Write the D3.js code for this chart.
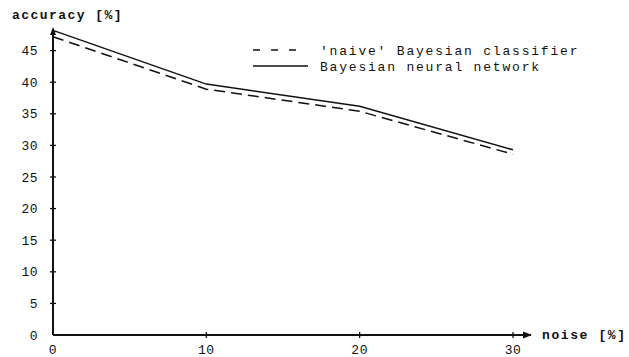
<!DOCTYPE html>
<html>
<head>
<meta charset="utf-8">
<script src="https://cdn.jsdelivr.net/npm/d3@7"></script>
<style>
  body { margin: 0; background: #fff; }
  text { font-family: "Liberation Mono", "DejaVu Sans Mono", monospace; fill: #111; }
</style>
</head>
<body>
<svg width="629" height="357"></svg>
<script>
// data
let noise = [0, 10, 20, 30];
let naive = [47.2, 38.9, 35.4, 28.6];
let bnn = [48.2, 39.7, 36.2, 29.3];
let yTicks = [0, 5, 10, 15, 20, 25, 30, 35, 40, 45];
let xTicks = [0, 10, 20, 30];
let seriesNames = ["'naive' Bayesian classifier", "Bayesian neural network"];

var svg = d3.select("svg");

var x = d3.scaleLinear().domain([0, 30]).range([53, 513]);
var y = d3.scaleLinear().domain([0, 45]).range([335, 50.6]);

// axes, drawn by hand to look like the old plot
var ax = svg.append("g").attr("stroke", "#111").attr("stroke-width", 2);
ax.append("line").attr("x1", x(0)).attr("x2", x(30) + 18).attr("y1", y(0)).attr("y2", y(0));
ax.append("line").attr("x1", x(0)).attr("x2", x(0)).attr("y1", y(0)).attr("y2", 29);

// arrow heads
svg.append("path")
  .attr("d", "M" + (x(30) + 19) + "," + y(0) + " l-9,-3.5 l0,7 z")
  .attr("fill", "#111");
svg.append("path")
  .attr("d", "M" + x(0) + ",27 l-3,8 l6,0 z")
  .attr("fill", "#111");

// tick crosses
svg.append("g").selectAll("line").data(yTicks.slice(1)).enter().append("line")
  .attr("x1", x(0) - 3).attr("x2", x(0) + 3)
  .attr("y1", d => y(d)).attr("y2", d => y(d))
  .attr("stroke", "#111").attr("stroke-width", 1.3);
svg.append("g").selectAll("line").data(xTicks.slice(1)).enter().append("line")
  .attr("x1", d => x(d)).attr("x2", d => x(d))
  .attr("y1", y(0) - 3).attr("y2", y(0) + 3)
  .attr("stroke", "#111").attr("stroke-width", 1.3);

svg.append("g").selectAll("text").data(yTicks).enter().append("text")
  .attr("x", 38).attr("y", d => y(d) + 4.5)
  .attr("text-anchor", "end")
  .attr("font-size", 13).attr("letter-spacing", 0.5)
  .text(d => d);

svg.append("g").selectAll("text").data(xTicks).enter().append("text")
  .attr("x", d => x(d)).attr("y", 354)
  .attr("text-anchor", "middle")
  .attr("font-size", 13).attr("letter-spacing", 0.5)
  .text(d => d);

svg.append("text").attr("x", 12).attr("y", 19)
  .attr("font-size", 13).attr("font-weight", "bold").attr("letter-spacing", 1.45)
  .text("accuracy [%]");
svg.append("text").attr("x", 542).attr("y", 339)
  .attr("font-size", 13).attr("font-weight", "bold").attr("letter-spacing", 1.6)
  .text("noise [%]");

// series
var line = d3.line().x(d => x(d[0])).y(d => y(d[1]));
svg.append("path")
  .datum(noise.map((n, i) => [n, naive[i]]))
  .attr("d", line).attr("fill", "none")
  .attr("stroke", "#111").attr("stroke-width", 1.5)
  .attr("stroke-dasharray", "11,6");
svg.append("path")
  .datum(noise.map((n, i) => [n, bnn[i]]))
  .attr("d", line).attr("fill", "none")
  .attr("stroke", "#111").attr("stroke-width", 1.5);

// legend
var leg = svg.append("g");
leg.append("line").attr("x1", 253).attr("x2", 298).attr("y1", 50).attr("y2", 50)
  .attr("stroke", "#111").attr("stroke-width", 1.5).attr("stroke-dasharray", "7,11");
leg.append("line").attr("x1", 253).attr("x2", 308).attr("y1", 66).attr("y2", 66)
  .attr("stroke", "#111").attr("stroke-width", 1.5);
leg.selectAll("text").data(seriesNames).enter().append("text")
  .attr("x", 320).attr("y", (d, i) => 54.5 + i * 16)
  .attr("font-size", 13).attr("letter-spacing", 1.8)
  .text(d => d);
</script>
</body>
</html>
